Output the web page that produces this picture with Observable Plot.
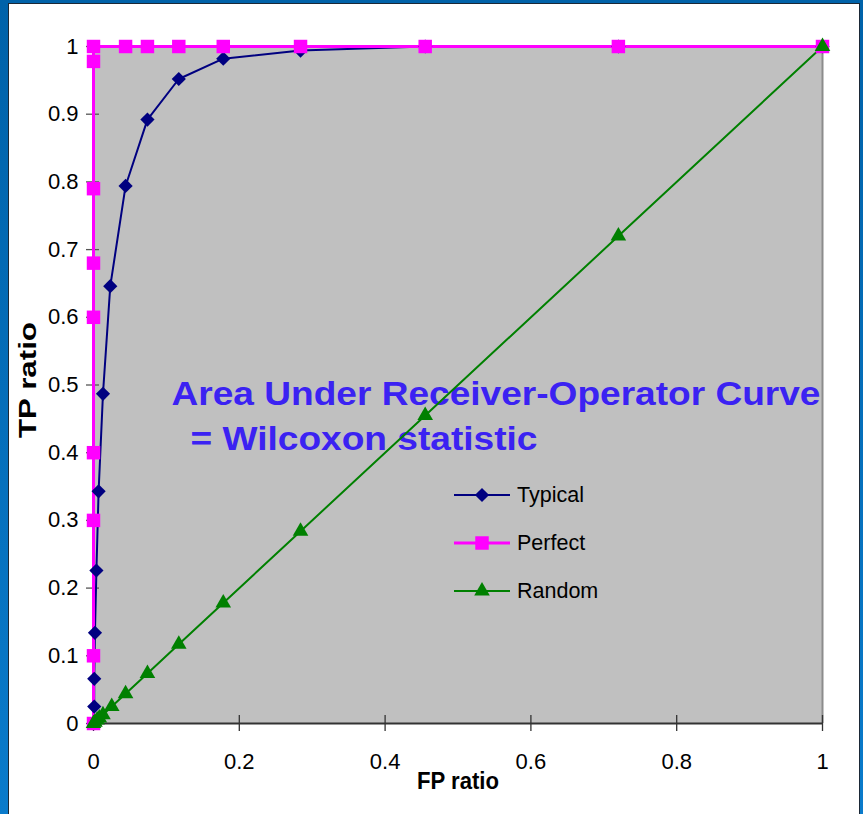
<!DOCTYPE html>
<html><head><meta charset="utf-8">
<script src="https://cdn.jsdelivr.net/npm/d3@7"></script>
<script src="https://cdn.jsdelivr.net/npm/@observablehq/plot@0.6"></script>
<style>
html,body{margin:0;padding:0;}
body{width:863px;height:814px;overflow:hidden;position:relative;background:linear-gradient(#0062a9,#0a7bcb);font-family:"Liberation Sans",Arial,sans-serif;}
#panel{position:absolute;left:8px;top:3px;width:852px;height:840px;background:#fff;border:1px solid #1b2836;box-sizing:border-box;}
#chart{position:absolute;left:0;top:0;}
#legend{position:absolute;left:454px;top:0;}
.row{position:absolute;left:0;height:24px;width:200px;}
.row svg{position:absolute;left:0;top:0;}
.row span{position:absolute;left:63px;top:0;line-height:24px;font-size:21.5px;color:#000;white-space:nowrap;}
</style></head>
<body>
<div id="panel"></div>
<div id="chart"></div>
<div id="legend"></div>
<script>
// ---- data ----
const fpTypical = [0, 0.001, 0.001, 0.002, 0.004, 0.007, 0.013, 0.023, 0.044, 0.074, 0.117, 0.178, 0.284, 0.455, 0.72, 1];
const tpTypical = [0, 0.025, 0.066, 0.134, 0.226, 0.343, 0.487, 0.646, 0.794, 0.892, 0.952, 0.982, 0.994, 1, 1, 1];
const fpPerfect = [0, 0, 0, 0, 0, 0, 0, 0, 0, 0.044, 0.074, 0.117, 0.178, 0.284, 0.455, 0.72, 1];
const tpPerfect = [0, 0.1, 0.3, 0.4, 0.6, 0.68, 0.79, 0.978, 1, 1, 1, 1, 1, 1, 1, 1, 1];
const fpRandom = [0, 0.002, 0.005, 0.008, 0.013, 0.025, 0.044, 0.074, 0.117, 0.178, 0.284, 0.455, 0.72, 1];
const tpRandom = [0, 0.002, 0.005, 0.008, 0.013, 0.025, 0.044, 0.074, 0.117, 0.178, 0.284, 0.455, 0.72, 1];
const seriesNames = ["Typical", "Perfect", "Random"];
const xTicks = [0, 0.2, 0.4, 0.6, 0.8, 1];
const xTickLabels = ["0", "0.2", "0.4", "0.6", "0.8", "1"];
const yTicks = [0, 0.1, 0.2, 0.3, 0.4, 0.5, 0.6, 0.7, 0.8, 0.9, 1];
const yTickLabels = ["0", "0.1", "0.2", "0.3", "0.4", "0.5", "0.6", "0.7", "0.8", "0.9", "1"];
const xTitle = "FP ratio";
const yTitle = "TP ratio";
const noteLine1 = "Area Under Receiver-Operator Curve";
const noteLine2 = "= Wilcoxon statistic";

// ---- build ----
const zip = (xs, ys) => xs.map((x, i) => ({fp: x, tp: ys[i]}));
const typical = zip(fpTypical, tpTypical);
const perfect = zip(fpPerfect, tpPerfect);
const random = zip(fpRandom, tpRandom);
const styles = {
  Typical: {color: "#000080", symbol: "diamond2", r: 6.4, width: 2},
  Perfect: {color: "#ff00ff", symbol: "square", r: 7.6, width: 3},
  Random:  {color: "#008000", symbol: "triangle", r: 5.8, width: 2}
};
const F = "'Liberation Sans', Arial, sans-serif";
const noteColor = "#3b22f2";

const chart = Plot.plot({
  width: 863, height: 814,
  marginLeft: 93, marginRight: 41, marginTop: 46, marginBottom: 91,
  x: {domain: [0, 1], label: null},
  y: {domain: [0, 1], label: null},
  style: {fontFamily: F, fontSize: "22px", background: "transparent", overflow: "visible", color: "#000"},
  marks: [
    Plot.frame({fill: "#c0c0c0", stroke: null}),
    Plot.ruleX([1], {stroke: "#8c8c8c", strokeWidth: 2}),
    Plot.axisX({ticks: xTicks, tickSize: 16, dy: -8, tickFormat: () => "", stroke: "#333", strokeWidth: 1.3}),
    Plot.axisX({ticks: xTicks, tickSize: 0, tickPadding: 30, tickFormat: d => xTickLabels[xTicks.indexOf(d)], fontSize: 22}),
    Plot.axisY({ticks: yTicks, tickSize: 13, dx: 6, tickFormat: () => "", stroke: "#555", strokeWidth: 1.3}),
    Plot.axisY({ticks: yTicks, tickSize: 0, tickPadding: 15, tickFormat: d => yTickLabels[yTicks.indexOf(d)], fontSize: 22}),
    Plot.ruleY([0], {stroke: "#333", strokeWidth: 2}),
    Plot.text([yTitle], {frameAnchor: "left", dx: -65, dy: 53, rotate: -90, textAnchor: "start", fontWeight: "bold", fontSize: 23, className: "ytitle"}),
    Plot.text([xTitle], {frameAnchor: "bottom", lineAnchor: "middle", dy: 58, fontWeight: "bold", fontSize: 23, className: "xtitle"}),
    Plot.text([noteLine1], {frameAnchor: "top-left", lineAnchor: "middle", textAnchor: "start", dx: 78, dy: 348, fontWeight: "bold", fontSize: 33, fill: noteColor, className: "note1"}),
    Plot.text([noteLine2], {frameAnchor: "top-left", lineAnchor: "middle", textAnchor: "start", dx: 97, dy: 393, fontWeight: "bold", fontSize: 33, fill: noteColor, className: "note2"}),
    Plot.line(typical, {x: "fp", y: "tp", stroke: styles.Typical.color, strokeWidth: styles.Typical.width}),
    Plot.line(perfect, {x: "fp", y: "tp", stroke: styles.Perfect.color, strokeWidth: styles.Perfect.width}),
    Plot.line(random, {x: "fp", y: "tp", stroke: styles.Random.color, strokeWidth: styles.Random.width}),
    Plot.dot(typical, {x: "fp", y: "tp", symbol: styles.Typical.symbol, r: styles.Typical.r, fill: styles.Typical.color, stroke: null}),
    Plot.dot(perfect, {x: "fp", y: "tp", symbol: styles.Perfect.symbol, r: styles.Perfect.r, fill: styles.Perfect.color, stroke: null}),
    Plot.dot(random, {x: "fp", y: "tp", symbol: styles.Random.symbol, r: styles.Random.r, fill: styles.Random.color, stroke: null})
  ]
});
document.getElementById("chart").appendChild(chart);
const svg = d3.select(chart);
const stretch = (cls, len) => svg.selectAll("." + cls + " text").attr("textLength", len).attr("lengthAdjust", "spacingAndGlyphs");
stretch("note1", 649);
stretch("note2", 347);
stretch("ytitle", 116);
stretch("xtitle", 82);

// ---- legend (HTML) ----
const legend = d3.select("#legend");
const symMap = {diamond2: d3.symbolDiamond2, square: d3.symbolSquare, triangle: d3.symbolTriangle};
seriesNames.forEach((name, i) => {
  const s = styles[name];
  const row = legend.append("div").attr("class", "row").style("top", (483 + i * 48) + "px");
  const sv = row.append("svg").attr("width", 60).attr("height", 24);
  sv.append("line").attr("x1", 0).attr("x2", 56).attr("y1", 12).attr("y2", 12)
    .attr("stroke", s.color).attr("stroke-width", s.width);
  sv.append("path").attr("transform", "translate(28,12)")
    .attr("d", d3.symbol(symMap[s.symbol], Math.PI * s.r * s.r)()).attr("fill", s.color);
  row.append("span").text(name);
});
</script>
</body></html>
